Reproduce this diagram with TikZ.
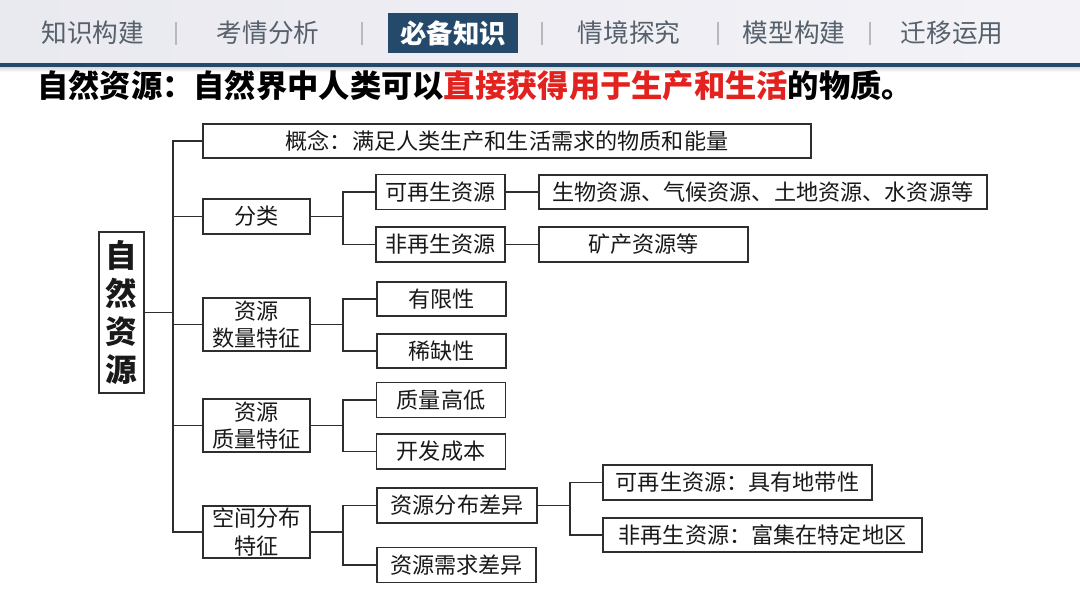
\documentclass[tikz,border=0pt]{standalone}
\usepackage{fontspec}
\setmainfont{Noto Sans CJK SC}
\newfontfamily\cjk{Noto Sans CJK SC}
\usetikzlibrary{calc}
\definecolor{navy}{HTML}{24496B}
\definecolor{tabgray}{HTML}{56616C}
\definecolor{titlered}{HTML}{E3211E}
\definecolor{lineg}{HTML}{2E2E2E}
\tikzset{
  box/.style={draw=lineg, line width=0.85pt, inner sep=0pt, minimum height=0.7cm, align=center,
    font=\cjk\fontsize{12.6pt}{15.4pt}\selectfont, text=black!90},
  link/.style={draw=lineg, line width=0.8pt},
  tab/.style={font=\cjk\fontsize{14.6pt}{16pt}\selectfont, text=tabgray, inner sep=0pt},
  sep/.style={draw=gray!55, line width=0.6pt},
}
\begin{document}
\begin{tikzpicture}[x=0.02cm, y=-0.02cm]
\useasboundingbox (0,0) rectangle (1080,608);
\fill[white] (0,0) rectangle (1080,608);
% top bar
\shade[left color=black!2!blue!3!white!88!gray, right color=blue!2!white!94!gray] (0,0) rectangle (1080,64);
\shade[top color=gray!30, bottom color=white] (0,67) rectangle (1080,72);
\fill[navy] (0,63.5) rectangle (1080,67.5);
% tabs
\node[tab] (t1) at (93,33) {知识构建};
\node[tab] (t2) at (268,33) {考情分析};
\node[fill=navy, minimum width=2.6cm, minimum height=0.8cm, inner sep=0pt] (t3) at (453,33) {};
\node[tab, text=white, font=\cjk\bfseries\fontsize{15pt}{16pt}\selectfont] at (t3.center) {必备知识};
\node[tab] (t4) at (629,33) {情境探究};
\node[tab] (t5) at (794,33) {模型构建};
\node[tab] (t6) at (952,33) {迁移运用};
\foreach \sx in {176,362,542,718,870}{\draw[sep] (\sx,22) -- (\sx,45);}
% title
\node[anchor=west, inner sep=0pt, font=\cjk\bfseries\fontsize{17.8pt}{20pt}\selectfont] (title) at (37,86)
  {自然资源：自然界中人类可以\textcolor{titlered}{直接获得用于生产和生活}的物质。};
% diagram nodes
\node[box, minimum width=0.9cm, minimum height=3.22cm, font=\cjk\bfseries\fontsize{18pt}{21.6pt}\selectfont] (root) at (121.5,312.5) {自\\然\\资\\源};
\node[box, minimum width=12.16cm, minimum height=0.68cm] (gn) at (507,141) {概念：满足人类生产和生活需求的物质和能量};
\node[box, minimum width=2.14cm] (fl) at (256.5,216.5) {分类};
\node[box, minimum width=2.14cm, minimum height=1.06cm] (sl) at (256.5,324.5) {资源\\数量特征};
\node[box, minimum width=2.14cm, minimum height=1.06cm] (zl) at (256.5,425.5) {资源\\质量特征};
\node[box, minimum width=2.14cm, minimum height=1.04cm] (kj) at (256.5,532) {空间分布\\特征};
\node[box, minimum width=2.58cm] (kz) at (440.5,192) {可再生资源};
\node[box, minimum width=2.58cm] (fz) at (440.5,244.5) {非再生资源};
\node[box, minimum width=8.96cm, minimum height=0.68cm] (sw) at (763,192) {生物资源、气候资源、土地资源、水资源等};
\node[box, minimum width=4.18cm] (kc) at (643.5,244.5) {矿产资源等};
\node[box, minimum width=2.58cm, minimum height=0.68cm] (yx) at (441.5,299) {有限性};
\node[box, minimum width=2.58cm, minimum height=0.68cm] (xq) at (441.5,351) {稀缺性};
\node[box, minimum width=2.58cm] (zg) at (441,400) {质量高低};
\node[box, minimum width=2.58cm] (kf) at (441,451.5) {开发成本};
\node[box, minimum width=3.2cm] (fb) at (457,505.5) {资源分布差异};
\node[box, minimum width=3.18cm] (xc) at (456.5,565) {资源需求差异};
\node[box, minimum width=5.38cm] (dd) at (737.5,482.5) {可再生资源：具有地带性};
\node[box, minimum width=6.38cm, minimum height=0.68cm] (fj) at (762.5,535) {非再生资源：富集在特定地区};
% junction coordinates
\coordinate (tx) at (173,0);
\coordinate (bx) at (343,0);
\coordinate (cx) at (570,0);
% trunk
\draw[link] (root.east) -- (root.east -| tx);
\draw[link] (gn.west) -- (gn.west -| tx) -- (kj.west -| tx) -- (kj.west);
\draw[link] (fl.west) -- (fl.west -| tx);
\draw[link] (sl.west) -- (sl.west -| tx);
\draw[link] (zl.west) -- (zl.west -| tx);
% classification
\draw[link] (fl.east) -- (fl.east -| bx);
\draw[link] (kz.west) -- (kz.west -| bx) -- (fz.west -| bx) -- (fz.west);
\draw[link] (kz.east) -- (sw.west);
\draw[link] (fz.east) -- (kc.west);
% quantity
\draw[link] (sl.east) -- (sl.east -| bx);
\draw[link] (yx.west) -- (yx.west -| bx) -- (xq.west -| bx) -- (xq.west);
% quality
\draw[link] (zl.east) -- (zl.east -| bx);
\draw[link] (zg.west) -- (zg.west -| bx) -- (kf.west -| bx) -- (kf.west);
% spatial
\draw[link] (kj.east) -- (kj.east -| bx);
\draw[link] (fb.west) -- (fb.west -| bx) -- (xc.west -| bx) -- (xc.west);
\draw[link] (fb.east) -- (fb.east -| cx);
\draw[link] (dd.west) -- (dd.west -| cx) -- (fj.west -| cx) -- (fj.west);
\end{tikzpicture}
\end{document}
